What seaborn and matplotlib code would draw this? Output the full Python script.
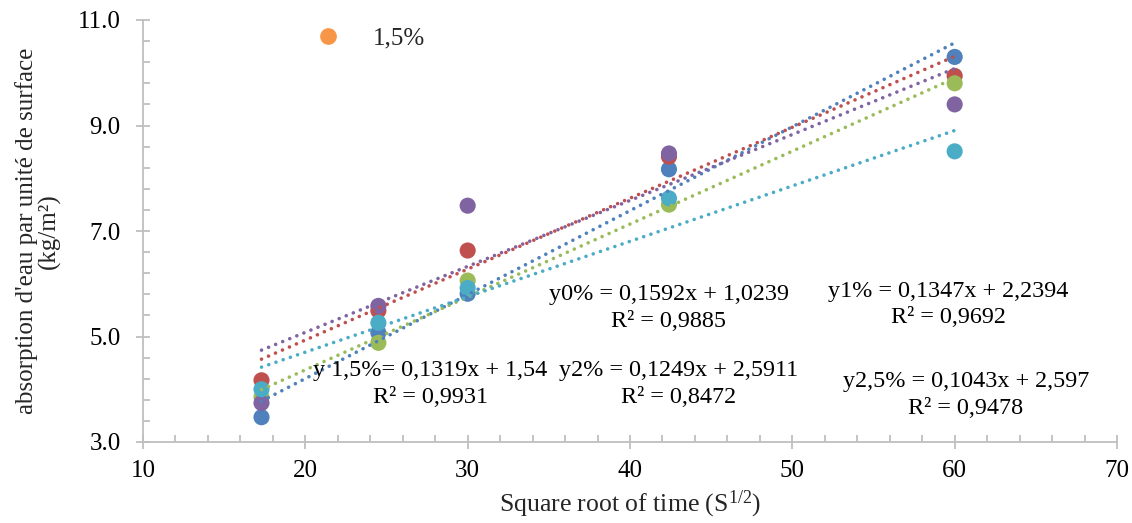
import numpy as np
import pandas as pd
import matplotlib
matplotlib.use("Agg")
import matplotlib.pyplot as plt
from matplotlib.lines import Line2D
from matplotlib.ticker import FixedLocator, FormatStrFormatter, MultipleLocator
import seaborn as sns

# racine du temps (s^1/2)
x_vals = [17.3, 24.5, 30.0, 42.4, 60.0]

series = ["0%", "1%", "1,5%", "2%", "2,5%"]
y_0 = [3.47, 5.07, 5.81, 8.17, 10.30]
y_1 = [4.17, 5.49, 6.63, 8.41, 9.94]
y_15 = [3.85, 4.88, 6.06, 7.50, 9.80]
y_2 = [3.74, 5.58, 7.48, 8.47, 9.40]
y_25 = [4.00, 5.26, 5.92, 7.62, 8.51]
colors = ["#4F81BD", "#C0504D", "#9BBB59", "#8064A2", "#4BACC6"]

equations = [
    "y0% = 0,1592x + 1,0239\nR² = 0,9885",
    "y1% = 0,1347x + 2,2394\nR² = 0,9692",
    "y 1,5%= 0,1319x + 1,54\nR² = 0,9931",
    "y2% = 0,1249x + 2,5911\nR² = 0,8472",
    "y2,5% = 0,1043x + 2,597\nR² = 0,9478",
]
eq_pos = [(42.4, 5.54), (59.6, 5.60), (27.7, 4.10), (43.0, 4.10), (60.7, 3.89)]

rows = []
for name, ys in zip(series, [y_0, y_1, y_15, y_2, y_25]):
    for xv, yv in zip(x_vals, ys):
        rows.append({"t": xv, "abs": yv, "serie": name})
df = pd.DataFrame(rows)

sns.set_style("ticks")
plt.rcParams["font.family"] = ["Liberation Serif", "DejaVu Serif"]
plt.rcParams["mathtext.fontset"] = "custom"
plt.rcParams["mathtext.rm"] = "Liberation Serif"
plt.rcParams["mathtext.it"] = "Liberation Serif:italic"

fig = plt.figure(figsize=(11.32, 5.23), dpi=100)
ax = fig.add_axes([143/1132, 1-442/523, (1117-143)/1132, (442-20)/523])

sns.scatterplot(data=df, x="t", y="abs", hue="serie", palette=colors,
                s=135, linewidth=0, legend=False, ax=ax, zorder=2)

for name, c in zip(series, colors):
    d = df[df["serie"] == name]
    sns.regplot(data=d, x="t", y="abs", scatter=False, ci=None, ax=ax,
                line_kws=dict(color=c, lw=2.6, linestyle=(0, (0.01, 2.1)),
                              dash_capstyle="round", zorder=3))

fs = 18
for txt, (tx, ty) in zip(equations, eq_pos):
    ax.text(tx, ty, txt, ha="center", va="center", multialignment="center",
            fontsize=17.4, color="black", linespacing=1.32, zorder=4)

ax.set_xlim(10, 70)
ax.set_ylim(3, 11)
ax.xaxis.set_major_locator(MultipleLocator(10))
ax.xaxis.set_minor_locator(MultipleLocator(2))
ax.yaxis.set_major_locator(FixedLocator(np.arange(3, 11.01, 2)))
ax.yaxis.set_minor_locator(FixedLocator(np.arange(3, 11.01, 0.4)))
ax.yaxis.set_major_formatter(FormatStrFormatter("%.1f"))

grey = "#BFBFBF"
for s in ["top", "right"]:
    ax.spines[s].set_visible(False)
for s in ["left", "bottom"]:
    ax.spines[s].set_color(grey)
    ax.spines[s].set_linewidth(1.3)
ax.tick_params(which="major", direction="inout", length=10, width=1.3,
               color=grey, labelsize=fs, labelcolor="black")
ax.tick_params(which="minor", direction="in", length=5, width=1.3, color=grey)
ax.tick_params(axis="x", which="major", pad=8)
ax.tick_params(axis="y", which="major", pad=11)

ax.set_xlabel("Square root of time (S$^{\\mathrm{1/2}}$)", fontsize=18.5, labelpad=5)
ax.set_ylabel("absorption d'eau par unité de surface\n(kg/m²)", fontsize=fs,
              labelpad=12, linespacing=1.0)

handle = Line2D([], [], marker="o", ls="", color="#F79646", markersize=11)
ax.legend(handles=[handle], labels=["1,5%"], frameon=False, loc="center left",
          bbox_to_anchor=(315/1132, 1-38/523), bbox_transform=fig.transFigure,
          borderaxespad=0, borderpad=0, handlelength=1, handletextpad=1.3,
          fontsize=fs)

fig.savefig("out.png", dpi=100)
